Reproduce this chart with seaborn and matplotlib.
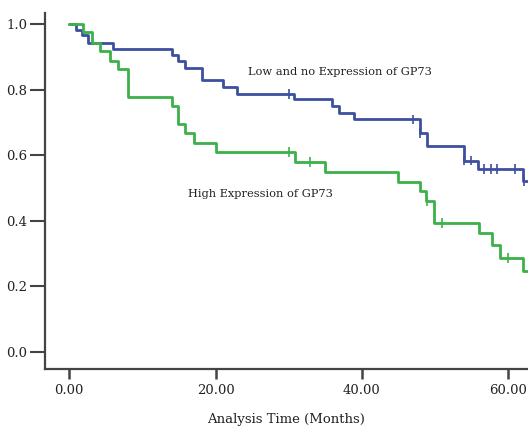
import matplotlib
matplotlib.use('Agg')
import matplotlib.pyplot as plt
import numpy as np
import pandas as pd
import seaborn as sns

# Kaplan-Meier step data (time in months, cumulative survival)
low_t = [0, 1.0, 1.8, 2.6, 6.0, 14.1, 14.9, 15.8, 18.1, 21.0, 23.0, 30.7, 35.9, 36.9, 38.9, 47.9, 48.9, 54.0, 55.9, 62.0, 62.7]
low_s = [1.0, 0.982, 0.966, 0.942, 0.924, 0.905, 0.887, 0.866, 0.829, 0.808, 0.787, 0.771, 0.750, 0.729, 0.710, 0.668, 0.628, 0.584, 0.558, 0.521, 0.521]
low_cens = [30.0, 47.0, 47.9, 54.0, 54.9, 56.7, 57.7, 58.5, 60.9, 62.1]

high_t = [0, 1.9, 3.1, 4.2, 5.6, 6.7, 8.0, 14.1, 14.9, 15.8, 17.0, 20.1, 30.9, 35.0, 44.9, 47.9, 48.8, 49.8, 56.0, 57.8, 58.9, 62.0, 62.7]
high_s = [1.0, 0.975, 0.942, 0.918, 0.887, 0.863, 0.777, 0.750, 0.695, 0.667, 0.637, 0.610, 0.579, 0.549, 0.519, 0.491, 0.460, 0.393, 0.363, 0.326, 0.287, 0.247, 0.247]
high_cens = [30.0, 32.9, 48.9, 50.9, 60.0]

BLUE = '#3d4f9f'
GREEN = '#3cb14a'

sns.set_style('white')
plt.rcParams['font.family'] = ['DejaVu Serif']

fig = plt.figure(figsize=(5.28, 4.29), dpi=100)
ax = fig.add_axes([45 / 528, 60 / 429, 483 / 528, 356 / 429])

curves = pd.concat([
    pd.DataFrame({'t': low_t, 's': low_s, 'g': 'low'}),
    pd.DataFrame({'t': high_t, 's': high_s, 'g': 'high'}),
])
sns.lineplot(data=curves, x='t', y='s', hue='g', estimator=None, sort=False,
             drawstyle='steps-post', palette={'low': BLUE, 'high': GREEN},
             linewidth=2, legend=False, ax=ax)

# censored observations sit on the step level at their time
def cens_points(times, ts, ss, g):
    idx = np.searchsorted(ts, times, side='right') - 1
    return pd.DataFrame({'t': times, 's': np.array(ss)[idx], 'g': g})

cens = pd.concat([cens_points(low_cens, low_t, low_s, 'low'),
                  cens_points(high_cens, high_t, high_s, 'high')])
sns.scatterplot(data=cens, x='t', y='s', hue='g', marker='|', s=45, linewidth=1.2,
                palette={'low': BLUE, 'high': GREEN}, legend=False, ax=ax, zorder=3)

ax.set_xlim(-3.3, 62.7)
ax.set_ylim(-0.052, 1.034)
ax.set_xticks([0, 20, 40, 60])
ax.set_xticklabels(['0.00', '20.00', '40.00', '60.00'])
ax.set_yticks([0, 0.2, 0.4, 0.6, 0.8, 1.0])
ax.set_yticklabels(['0.0', '0.2', '0.4', '0.6', '0.8', '1.0'])
ax.tick_params(axis='y', left=True, direction='out', length=11, width=1.5, color='#444',
               labelsize=9.5, labelcolor='#222', pad=2)
ax.tick_params(axis='x', bottom=True, direction='out', length=7, width=1.8, color='#444',
               labelsize=9.5, labelcolor='#222', pad=4)
ax.set_xlabel('Analysis Time (Months)', fontsize=9.5, color='#222', labelpad=11)
ax.set_ylabel('')
for side in ['top', 'right']:
    ax.spines[side].set_visible(False)
for side in ['left', 'bottom']:
    ax.spines[side].set_color('#444')
    ax.spines[side].set_linewidth(1.6)

ax.text(24.5, 0.855, 'Low and no Expression of GP73', fontsize=8.2, color='#222', va='center', ha='left')
ax.text(16.3, 0.482, 'High Expression of GP73', fontsize=8.2, color='#222', va='center', ha='left')

fig.savefig('out.png', dpi=100)
